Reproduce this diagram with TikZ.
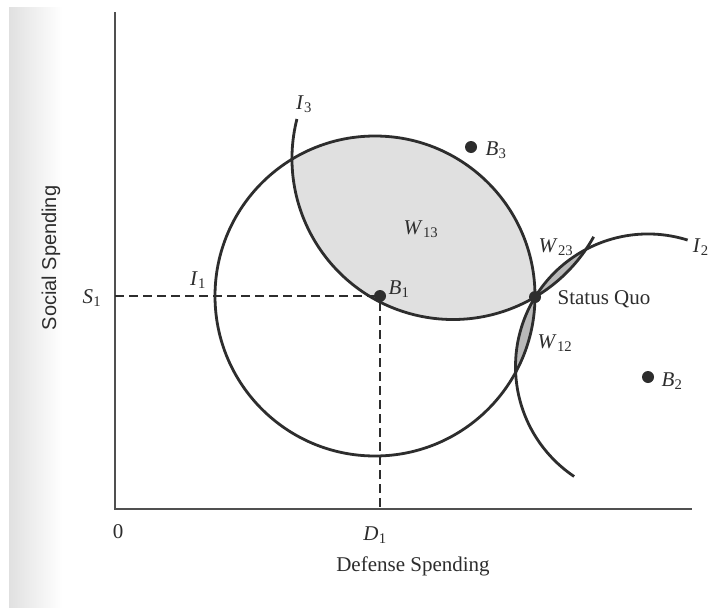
\documentclass[tikz,border=0pt]{standalone}
\usepackage{fontspec}
\setmainfont{Liberation Serif}
\setsansfont{Liberation Sans}
\definecolor{ink}{RGB}{45,45,45}
\definecolor{axisgray}{RGB}{80,80,80}
\definecolor{fillgray}{RGB}{224,224,224}
\definecolor{lensgray}{RGB}{185,185,185}
\newcommand\sublab[2]{\textit{#1}\kern0.3pt\textsubscript{#2}}
\begin{document}
\begin{tikzpicture}[x=1pt,y=-1pt,
  curve/.style={line width=2.8pt, draw=ink},
  axisline/.style={line width=1.6pt, draw=axisgray},
  guide/.style={line width=1.4pt, draw=ink, dash pattern=on 9pt off 5pt},
  dot/.style={circle, fill=ink, inner sep=0pt, minimum size=12pt},
  lab/.style={text=ink, font=\fontsize{21}{24}\selectfont, inner sep=0pt},
  ]
\useasboundingbox (0,0) rectangle (710,608);
\fill[white] (0,0) rectangle (710,608);
\shade[left color=black!12, right color=white] (9,7) rectangle (62,608);

% centres of the indifference circles
\coordinate (c1) at (375,296);
\coordinate (c2) at (648,366.5);
\coordinate (c3) at (453,158.5);
% axis points
\coordinate (ytop) at (115,12);
\coordinate (O) at (115,509);
\coordinate (xend) at (692,509);
\coordinate (S1) at (115,296);
\coordinate (D1) at (380,509);

% win sets
\begin{scope}
  \clip (c1) circle[radius=160];
  \fill[fillgray] (c3) circle[radius=161];
\end{scope}
\begin{scope}
  \clip (c2) circle[radius=132.5];
  \fill[lensgray] (c3) circle[radius=161];
  \fill[lensgray] (c1) circle[radius=160];
\end{scope}

% axes
\draw[axisline] (ytop) -- (O) -- (xend);

% ideal points
\node[dot] (B1) at (380,296) {};
\node[dot] (B3) at (471,147) {};
\node[dot] (B2) at (648,377) {};

% dashed guides
\draw[guide] (S1) -- (B1);
\draw[guide] (B1) -- (D1);

% indifference curves
\draw[curve] (c1) circle[radius=160];
\draw[curve] (c3) ++(-165.8:161) arc[start angle=-165.8, end angle=-330.9, radius=161];
\draw[curve] (c2) ++(-72.6:132.5) arc[start angle=-72.6, end angle=-236.1, radius=132.5];

\node[dot] (SQ) at (535,297) {};

% labels
\node[lab] (lI3) at (304,104) {\sublab{I}{3}};
\node[lab] (lI1) at (198,280) {\sublab{I}{1}};
\node[lab, anchor=east] (lI2) at (709,247) {\sublab{I}{2}};
\node[lab] (lB1) at (399,289) {\sublab{B}{1}};
\node[lab] (lB3) at (496,150) {\sublab{B}{3}};
\node[lab] (lB2) at (672,381) {\sublab{B}{2}};
\node[lab] (lW13) at (421,229) {\sublab{W}{13}};
\node[lab] (lW23) at (556,247) {\sublab{W}{23}};
\node[lab] (lW12) at (555,343) {\sublab{W}{12}};
\node[lab] (lSQ) at (604,299) {Status Quo};
\node[lab] (lS1) at (92,298) {\sublab{S}{1}};
\node[lab] (lzero) at (118,532) {0};
\node[lab] (lD1) at (375,535) {\sublab{D}{1}};
\node[lab] (lxt) at (413,566) {Defense Spending};
\node[lab, font=\sffamily\fontsize{20}{23}\selectfont, rotate=90] (lyt) at (51,258) {Social Spending};
\end{tikzpicture}
\end{document}
